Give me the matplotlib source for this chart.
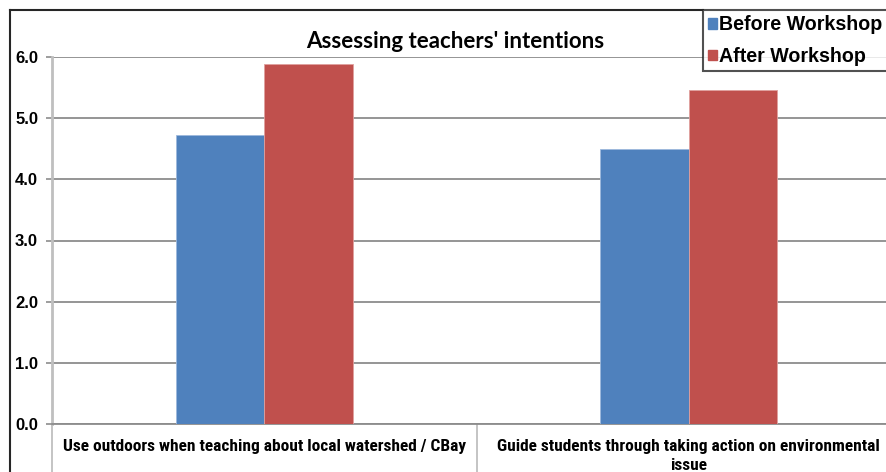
import matplotlib.pyplot as plt
import numpy as np
from matplotlib.lines import Line2D
from matplotlib.patches import Patch
from matplotlib import font_manager

# data
categories = ["Use outdoors when teaching about local watershed / CBay",
              "Guide students through taking action on environmental\nissue"]
series_names = ["Before Workshop", "After Workshop"]
before = [4.72, 4.49]
after = [5.89, 5.46]
yticks = [0.0, 1.0, 2.0, 3.0, 4.0, 5.0, 6.0]

blue = "#4F81BD"
red = "#C0504D"

# narrow font for the category labels if one is installed
label_font = "Liberation Sans"
for name in ["Liberation Sans Narrow", "Roboto Condensed", "Open Sans Condensed"]:
    try:
        font_manager.findfont(font_manager.FontProperties(family=name), fallback_to_default=False)
        label_font = name
        break
    except Exception:
        pass

W, H = 886, 472
fig = plt.figure(figsize=(W / 100, H / 100), dpi=100)

# plot area runs past the right edge like the cropped original
left, right, top, bottom = 52, 901, 57, 424
ax = fig.add_axes([left / W, (H - bottom) / H, (right - left) / W, (bottom - top) / H])

x = np.arange(len(categories))
bw = 0.208
ax.bar(x - bw / 2, before, bw, color=blue, edgecolor="#9DB9DC", linewidth=0.6, zorder=3)
ax.bar(x + bw / 2, after, bw, color=red, edgecolor="#E0A09E", linewidth=0.6, zorder=3)

ax.set_xlim(-0.5, len(categories) - 0.5)
ax.set_ylim(0, 6)
ax.set_yticks(yticks)
ax.set_yticklabels([f"{v:.1f}" for v in yticks], fontsize=12, fontweight="bold",
                   family="Liberation Sans")
ax.yaxis.grid(True, color="#8C8C8C", linewidth=1.3, zorder=0)
ax.set_axisbelow(True)

for s in ["top", "right"]:
    ax.spines[s].set_visible(False)
ax.spines["left"].set_color("#BFBFBF")
ax.spines["left"].set_linewidth(2)
ax.spines["bottom"].set_color("#8C8C8C")
ax.spines["bottom"].set_linewidth(1.3)
ax.tick_params(axis="y", length=4, color="#8C8C8C", width=1.2, pad=6)

# category labels: size chosen so the first label is about 404 px wide
probe = fig.text(0, 0, categories[0], fontsize=10, fontweight="bold", family=label_font)
r = fig.canvas.get_renderer()
wpx = probe.get_window_extent(r).width
probe.remove()
label_size = 10 * 404 / wpx

ax.set_xticks(x)
ax.set_xticklabels(categories, fontsize=label_size, fontweight="bold",
                   family=label_font, linespacing=1.3)
ax.tick_params(axis="x", which="major", length=0, pad=11)
ax.set_xticks(np.arange(-0.5, len(categories)), minor=True)
ax.tick_params(axis="x", which="minor", length=36, color="#BFBFBF", width=1.3)

fig.text(455 / W, 1 - 42 / H, "Assessing teachers' intentions", ha="center", va="center",
         fontsize=16, fontweight="bold", family="Lato")

# outer chart frame (partly cropped)
fig.add_artist(Line2D([10 / W, 10 / W], [0, 1 - 10 / H], color="#262626", lw=1.5))
fig.add_artist(Line2D([10 / W, 703 / W], [1 - 10 / H, 1 - 10 / H], color="#262626", lw=1.5))

handles = [Patch(facecolor=blue, edgecolor=blue), Patch(facecolor=red, edgecolor=red)]
leg = fig.legend(handles, series_names, loc="upper left", bbox_to_anchor=(703 / W, 1 - 10 / H),
                 borderaxespad=0, frameon=True, fancybox=False, handlelength=0.42,
                 handleheight=0.42, handletextpad=0.12, labelspacing=0.62, borderpad=0.28,
                 prop={"family": "Liberation Sans", "weight": "bold", "size": 14.1})
leg.get_frame().set_edgecolor("#262626")
leg.get_frame().set_linewidth(1.5)

fig.savefig("out.png", dpi=100)
